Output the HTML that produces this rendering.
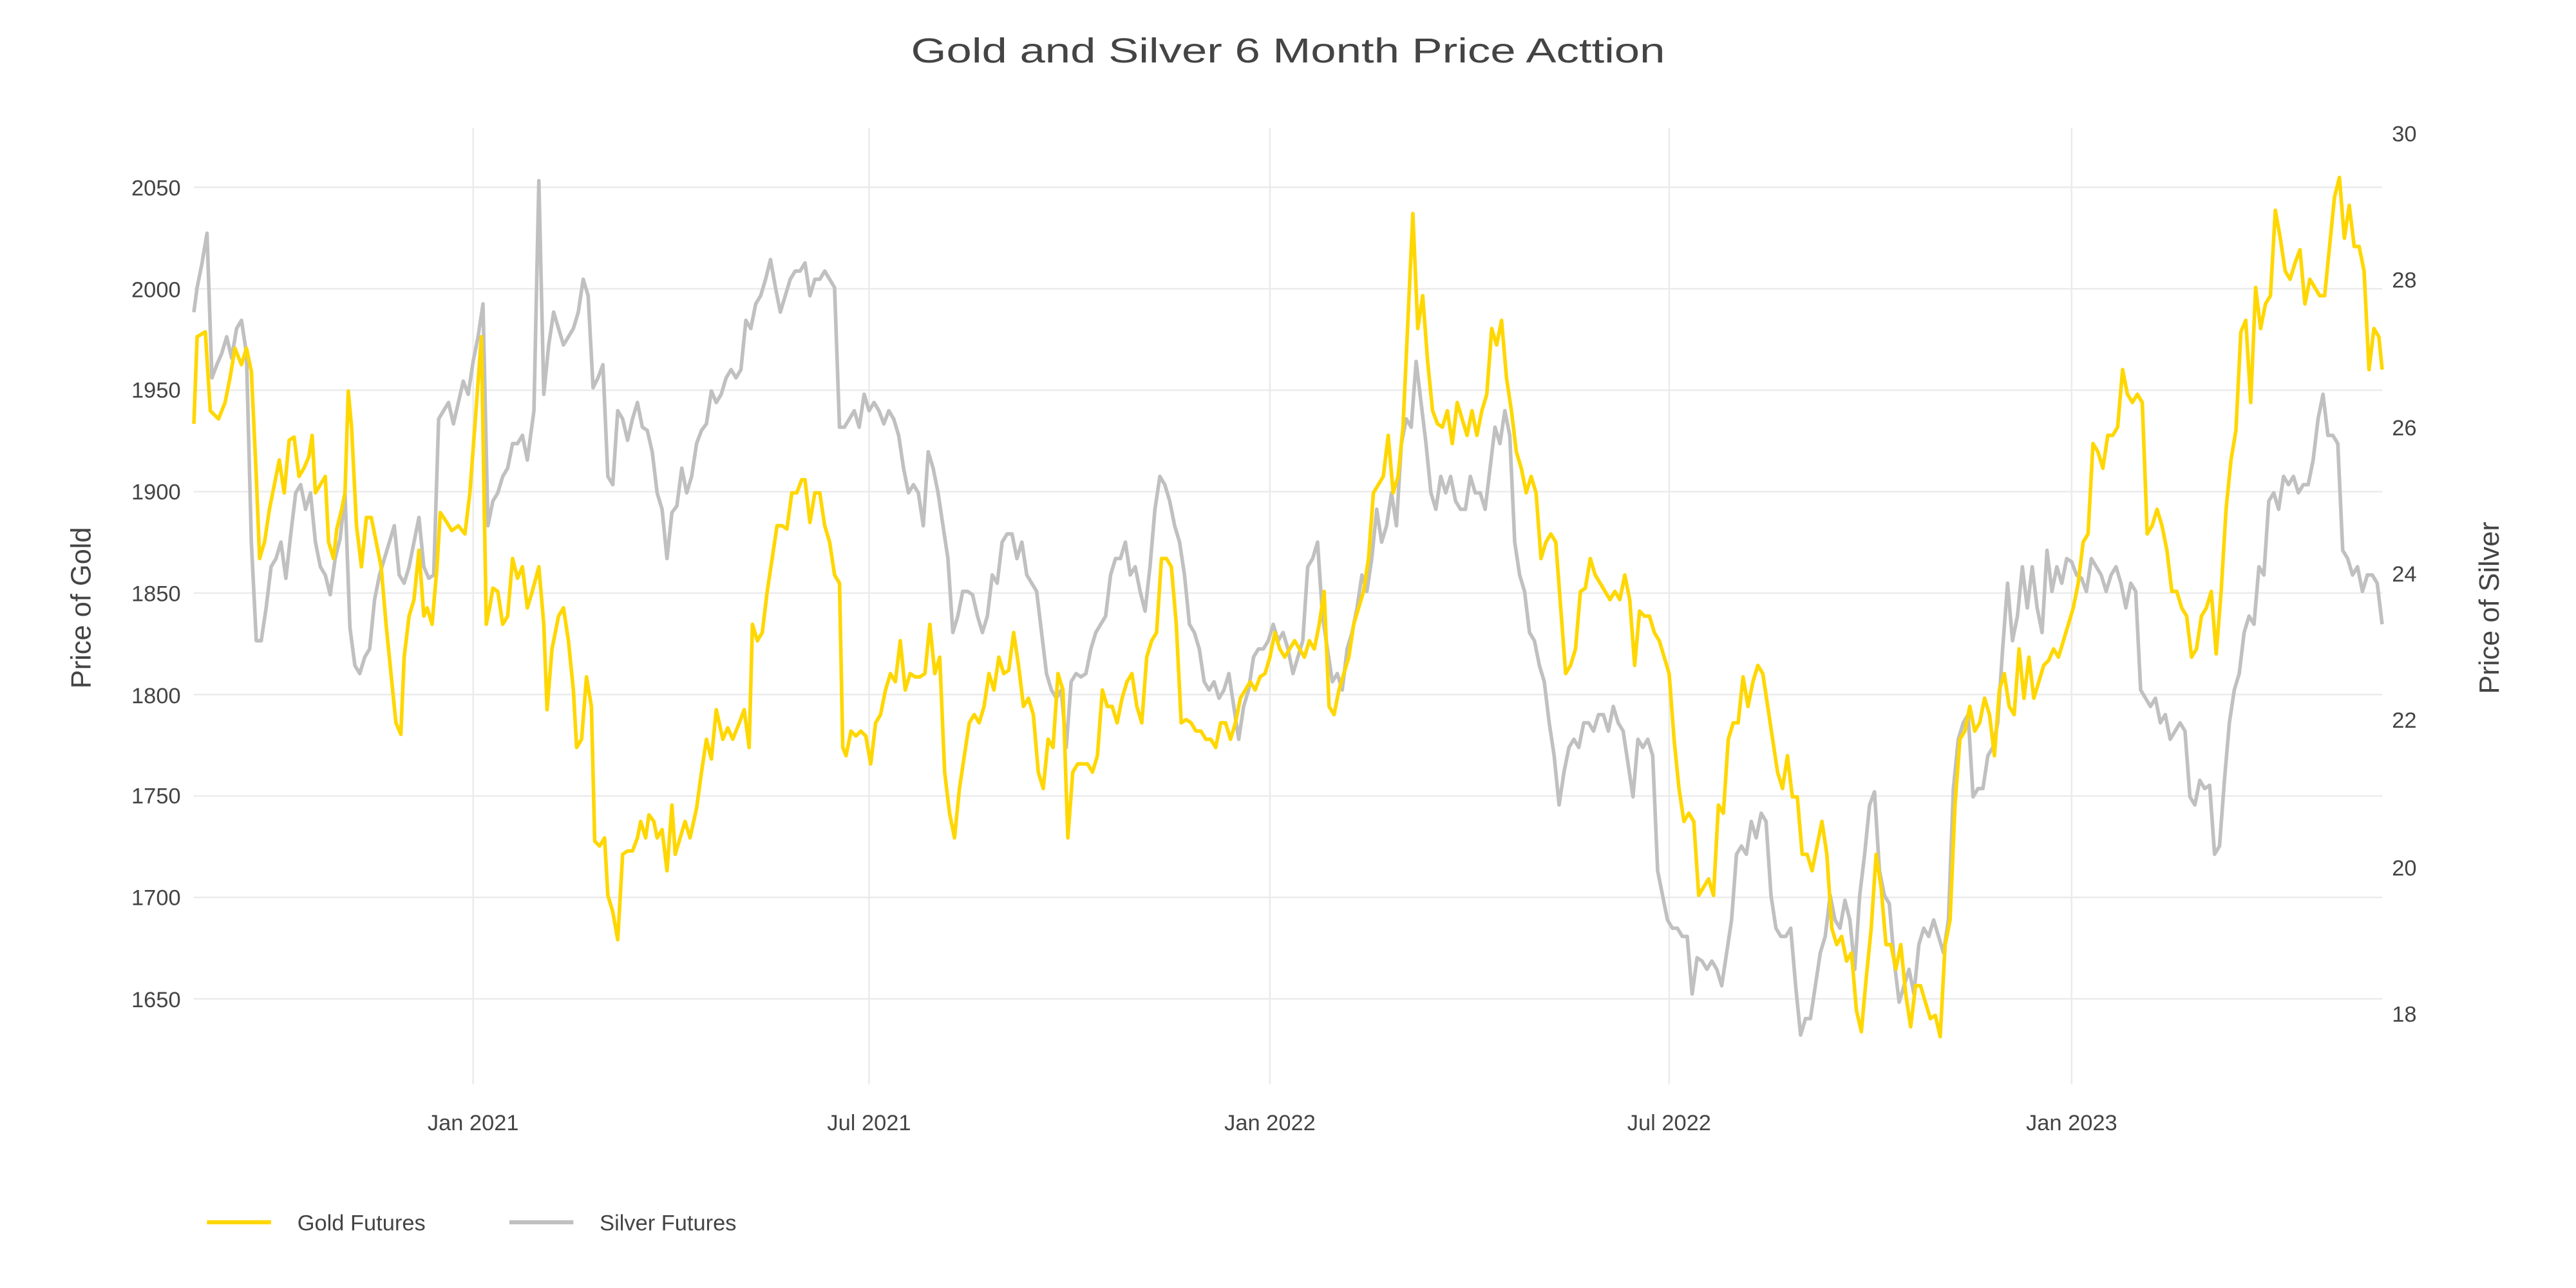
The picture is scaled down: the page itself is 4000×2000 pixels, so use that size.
<!DOCTYPE html>
<html><head><meta charset="utf-8"><style>html,body{margin:0;padding:0;background:#fff}svg{display:block}</style></head>
<body>
<svg width="4000" height="2000" viewBox="0 0 1568 784" xmlns="http://www.w3.org/2000/svg" font-family="'Liberation Sans', 'DejaVu Sans', sans-serif" fill="#444">
<g stroke="#ebebeb" stroke-width="1">
<line x1="118" x2="1450" y1="114" y2="114"/><line x1="118" x2="1450" y1="175.75" y2="175.75"/><line x1="118" x2="1450" y1="237.5" y2="237.5"/><line x1="118" x2="1450" y1="299.25" y2="299.25"/><line x1="118" x2="1450" y1="361" y2="361"/><line x1="118" x2="1450" y1="422.75" y2="422.75"/><line x1="118" x2="1450" y1="484.5" y2="484.5"/><line x1="118" x2="1450" y1="546.25" y2="546.25"/><line x1="118" x2="1450" y1="608" y2="608"/>
<line x1="288" x2="288" y1="78" y2="660"/><line x1="529" x2="529" y1="78" y2="660"/><line x1="773" x2="773" y1="78" y2="660"/><line x1="1016" x2="1016" y1="78" y2="660"/><line x1="1261" x2="1261" y1="78" y2="660"/>
</g>
<text x="784" y="38" font-size="21" text-anchor="middle" textLength="459" lengthAdjust="spacingAndGlyphs">Gold and Silver 6 Month Price Acttion</text>
<g font-size="13.5" text-anchor="end">
<text x="110" y="119">2050</text><text x="110" y="181">2000</text><text x="110" y="242">1950</text><text x="110" y="304">1900</text><text x="110" y="366">1850</text><text x="110" y="428">1800</text><text x="110" y="489">1750</text><text x="110" y="551">1700</text><text x="110" y="613">1650</text>
</g>
<g font-size="13.5" text-anchor="start">
<text x="1456" y="86">30</text><text x="1456" y="175">28</text><text x="1456" y="265">26</text><text x="1456" y="354">24</text><text x="1456" y="443">22</text><text x="1456" y="533">20</text><text x="1456" y="622">18</text>
</g>
<g font-size="13.5" text-anchor="middle">
<text x="288" y="688">Jan 2021</text><text x="529" y="688">Jul 2021</text><text x="773" y="688">Jan 2022</text><text x="1016" y="688">Jul 2022</text><text x="1261" y="688">Jan 2023</text>
</g>
<text transform="translate(55,370) rotate(-90)" font-size="17" text-anchor="middle">Price of Gold</text>
<text transform="translate(1521,370) rotate(-90)" font-size="17" text-anchor="middle">Price of Silver</text>
<line x1="126" x2="165" y1="744" y2="744" stroke="#ffd700" stroke-width="2.5"/>
<text x="181" y="749" font-size="13.5">Gold Futures</text>
<line x1="310" x2="349" y1="744" y2="744" stroke="#c0c0c0" stroke-width="2.5"/>
<text x="365" y="749" font-size="13.5">Silver Futures</text>
<polyline fill="none" stroke="#c0c0c0" stroke-width="2.2" stroke-linejoin="round" points="118,190 120,175 123,160 126,142 129,230 132,222 135,215 138,205 141,218 144,200 147,195 150,215 153,330 156,390 159,390 162,370 165,345 168,340 171,330 174,352 177,325 180,300 183,295 186,310 189,300 192,330 195,345 198,350 201,362 204,340 207,328 210,300 213,382 216,405 219,410 222,400 225,395 228,365 231,350 234,340 237,330 240,320 243,350 246,355 249,345 252,330 255,315 258,345 261,352 264,350 267,255 270,250 273,245 276,258 279,245 282,232 285,240 288,220 291,205 294,185 297,320 300,305 303,300 306,290 309,285 312,270 315,270 318,265 321,280 325,250 328,110 331,240 334,210 337,190 340,200 343,210 346,205 349,200 352,190 355,170 358,180 361,236 364,230 367,222 370,290 373,295 376,250 379,255 382,268 385,255 388,245 391,260 394,262 397,275 400,300 403,310 406,340 409,312 412,308 415,285 418,300 421,290 424,270 427,262 430,258 433,238 436,245 439,240 442,230 445,225 448,230 451,225 454,195 457,200 460,185 463,180 466,170 469,158 472,175 475,190 478,180 481,170 484,165 487,165 490,160 493,180 496,170 499,170 502,165 505,170 508,175 511,260 514,260 517,255 520,250 523,260 526,240 529,250 532,245 535,250 538,258 541,250 544,255 547,265 550,285 553,300 556,295 559,300 562,320 565,275 568,285 571,300 574,320 577,340 580,385 583,375 586,360 589,360 592,362 595,375 598,385 601,375 604,350 607,355 610,330 613,325 616,325 619,340 622,330 625,350 628,355 631,360 634,385 637,410 640,420 643,425 646,420 649,455 652,415 655,410 658,412 661,410 664,395 667,385 670,380 673,375 676,350 679,340 682,340 685,330 688,350 691,345 694,360 697,372 700,345 703,310 706,290 709,295 712,305 715,320 718,330 721,350 724,380 727,385 730,395 733,415 736,420 739,415 742,425 745,420 748,410 751,430 754,450 757,430 760,420 763,400 766,395 769,395 772,390 775,380 778,390 781,385 784,395 787,410 790,400 793,390 796,345 799,340 802,330 805,375 808,395 811,415 814,410 817,420 820,395 823,385 826,370 829,350 832,360 835,340 838,310 841,330 844,320 847,300 850,320 853,270 856,255 859,260 862,220 865,245 868,270 871,300 874,310 877,290 880,300 883,290 886,305 889,310 892,310 895,290 898,300 901,300 904,310 907,285 910,260 913,270 916,250 919,265 922,330 925,350 928,360 931,385 934,390 937,405 940,415 943,440 946,460 949,490 952,470 955,455 958,450 961,455 964,440 967,440 970,445 973,435 976,435 979,445 982,430 985,440 988,445 991,465 994,485 997,450 1000,455 1003,450 1006,460 1009,530 1012,545 1015,560 1018,565 1021,565 1024,570 1027,570 1030,605 1033,583 1036,585 1039,590 1042,585 1045,590 1048,600 1051,580 1054,560 1057,520 1060,515 1063,520 1066,500 1069,510 1072,495 1075,500 1078,545 1081,565 1084,570 1087,570 1090,565 1093,600 1096,630 1099,620 1102,620 1105,600 1108,580 1111,570 1114,545 1117,560 1120,565 1123,548 1126,560 1129,590 1132,545 1135,520 1138,490 1141,482 1144,530 1147,545 1150,550 1153,585 1156,610 1159,600 1162,590 1165,605 1168,575 1171,565 1174,570 1177,560 1180,570 1183,580 1186,560 1189,480 1192,450 1195,440 1198,435 1201,485 1204,480 1207,480 1210,460 1213,455 1216,440 1219,395 1222,355 1225,390 1228,375 1231,345 1234,370 1237,345 1240,370 1243,385 1246,335 1249,360 1252,345 1255,355 1258,340 1261,342 1264,350 1267,352 1270,360 1273,340 1276,345 1279,350 1282,360 1285,350 1288,345 1291,355 1294,370 1297,355 1300,360 1303,420 1306,425 1309,430 1312,425 1315,440 1318,435 1321,450 1324,445 1327,440 1330,445 1333,485 1336,490 1339,475 1342,480 1345,478 1348,520 1351,515 1354,475 1357,440 1360,420 1363,410 1366,385 1369,375 1372,380 1375,345 1378,350 1381,305 1384,300 1387,310 1390,290 1393,295 1396,290 1399,300 1402,295 1405,295 1408,280 1411,255 1414,240 1417,265 1420,265 1423,270 1426,335 1429,340 1432,350 1435,345 1438,360 1441,350 1444,350 1447,355 1450,380"/>
<polyline fill="none" stroke="#ffd700" stroke-width="2.2" stroke-linejoin="round" points="118,258 120,205 125,202 128,250 133,255 137,245 140,230 143,212 147,222 150,212 153,226 156,290 158,340 161,330 164,310 167,295 170,280 173,300 176,268 179,266 182,290 185,285 188,278 190,265 192,300 195,295 198,290 200,330 203,340 205,322 208,310 210,300 212,238 214,260 217,320 220,345 223,315 226,315 229,330 232,345 235,380 238,410 241,440 244,447 246,400 249,375 252,365 255,335 258,375 260,370 263,380 266,345 268,312 272,318 275,323 279,320 283,325 286,300 289,260 293,205 296,380 298,370 300,358 303,360 306,380 309,375 312,340 315,352 318,345 321,370 324,360 328,345 331,380 333,432 336,395 340,375 343,370 346,390 349,420 351,455 354,450 357,412 360,430 362,512 365,515 368,510 370,545 373,555 376,572 379,520 382,518 385,518 388,510 390,500 393,510 395,496 398,500 400,510 403,505 406,530 409,490 411,520 414,510 417,500 420,510 424,492 427,470 430,450 433,462 436,432 440,450 443,443 446,450 450,440 453,432 456,455 458,380 461,390 464,385 467,360 470,340 473,320 476,320 479,322 482,300 485,300 488,292 490,292 493,318 496,300 499,300 502,320 505,330 508,350 511,355 513,455 515,460 518,445 521,448 524,445 527,448 530,465 533,440 536,435 539,420 542,410 545,415 548,390 551,420 554,410 557,412 560,412 563,410 566,380 569,410 572,400 575,470 578,495 581,510 584,480 587,460 590,440 593,435 596,440 599,430 602,410 605,420 608,400 611,410 614,408 617,385 620,405 623,430 626,425 629,435 632,470 635,480 638,450 641,455 644,410 647,420 650,510 653,470 656,465 659,465 662,465 665,470 668,460 671,420 674,430 677,430 680,440 683,425 686,415 689,410 692,430 695,440 698,400 701,390 704,385 707,340 710,340 713,345 716,380 719,440 722,438 725,440 728,445 731,445 734,450 737,450 740,455 743,440 746,440 749,450 752,440 755,425 758,420 761,415 764,420 767,412 770,410 773,400 776,385 779,395 782,400 785,395 788,390 791,395 794,400 797,390 800,395 803,380 806,360 809,430 812,435 815,420 818,410 821,400 824,380 827,370 830,360 833,340 836,300 839,295 842,290 845,265 848,300 851,290 854,260 857,195 860,130 863,200 866,180 869,220 872,250 875,258 878,260 881,250 884,270 887,245 890,255 893,265 896,250 899,265 902,250 905,240 908,200 911,210 914,195 917,230 920,250 923,275 926,285 929,300 932,290 935,300 938,340 941,330 944,325 947,330 950,370 953,410 956,405 959,395 962,360 965,358 968,340 971,350 974,355 977,360 980,365 983,360 986,365 989,350 992,365 995,405 998,372 1001,375 1004,375 1007,385 1010,390 1013,400 1016,410 1019,450 1022,480 1025,500 1028,495 1031,500 1034,545 1037,540 1040,535 1043,545 1046,490 1049,495 1052,450 1055,440 1058,440 1061,412 1064,430 1067,415 1070,405 1073,410 1076,430 1079,450 1082,470 1085,480 1088,460 1091,485 1094,485 1097,520 1100,520 1103,530 1106,515 1109,500 1112,520 1115,565 1118,575 1121,570 1124,585 1127,580 1130,615 1133,628 1136,595 1139,565 1142,520 1145,540 1148,575 1151,575 1154,590 1157,575 1160,605 1163,625 1166,600 1169,600 1172,610 1175,620 1178,618 1181,631 1184,575 1187,560 1190,490 1193,450 1196,445 1199,430 1202,445 1205,440 1208,425 1211,435 1214,460 1217,420 1220,410 1223,430 1226,435 1229,395 1232,425 1235,400 1238,425 1241,415 1244,405 1247,402 1250,395 1253,400 1256,390 1259,380 1262,370 1265,355 1268,330 1271,325 1274,270 1277,275 1280,285 1283,265 1286,265 1289,260 1292,225 1295,240 1298,245 1301,240 1304,245 1307,325 1310,320 1313,310 1316,320 1319,335 1322,360 1325,360 1328,370 1331,375 1334,400 1337,395 1340,375 1343,370 1346,360 1349,398 1352,360 1355,310 1358,280 1361,262 1364,202 1367,195 1370,245 1373,175 1376,200 1379,185 1382,180 1385,128 1388,145 1391,165 1394,170 1397,160 1400,152 1403,185 1406,170 1409,175 1412,180 1415,180 1418,150 1421,120 1424,108 1427,145 1430,125 1433,150 1436,150 1439,165 1442,225 1445,200 1448,205 1450,225"/>
</svg>
</body></html>
